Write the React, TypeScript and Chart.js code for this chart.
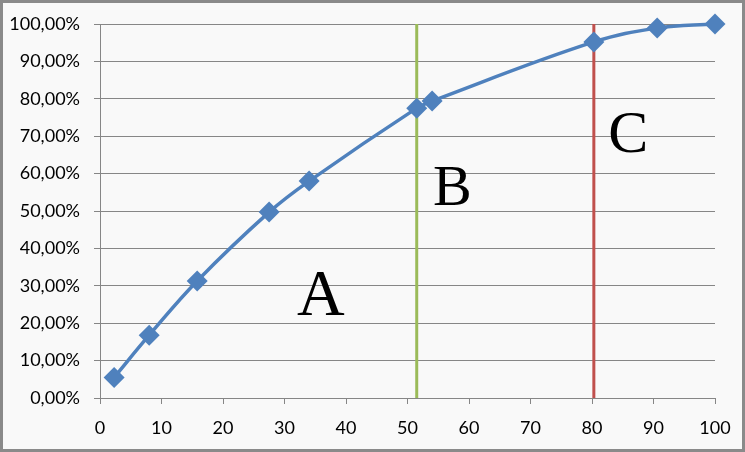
import React, { useEffect, useRef } from "react";
import { Chart, registerables } from "chart.js";

Chart.register(...registerables);

// Cumulative share curve (x = % of items, y = cumulative share)
const curveX = [2.3, 8.0, 15.8, 27.5, 34.0, 51.5, 54.0, 80.3, 90.6, 100];
const curveY = [0.055, 0.168, 0.313, 0.497, 0.58, 0.775, 0.794, 0.952, 0.989, 1.0];

// Zone boundaries
const boundaryAB = 51.5;
const boundaryBC = 80.3;

// Zone labels
const zoneLabels = ["A", "B", "C"];
const zoneLabelX = [35.9, 57.3, 85.9];
const zoneLabelY = [0.222, 0.516, 0.658];

const yTickLabels = ["0,00%", "10,00%", "20,00%", "30,00%", "40,00%", "50,00%", "60,00%", "70,00%", "80,00%", "90,00%", "100,00%"];
const xTickLabels = ["0", "10", "20", "30", "40", "50", "60", "70", "80", "90", "100"];

const zoneLabelPlugin = {
  id: "zoneLabels",
  afterDatasetsDraw(chart: any) {
    const { ctx, scales } = chart;
    const sizes = [66, 58, 60];
    ctx.save();
    ctx.fillStyle = "#000000";
    ctx.textAlign = "center";
    ctx.textBaseline = "alphabetic";
    zoneLabels.forEach((t, i) => {
      ctx.font = `${sizes[i]}px "Liberation Serif", "Times New Roman", serif`;
      ctx.fillText(t, scales.x.getPixelForValue(zoneLabelX[i]), scales.y.getPixelForValue(zoneLabelY[i]));
    });
    ctx.restore();
  },
};

const zeroPad = (s: any) => {
  s.paddingTop = 0;
  s.paddingBottom = 0;
  s.paddingLeft = 0;
  s.paddingRight = 0;
};

export default function App() {
  const ref = useRef<HTMLCanvasElement | null>(null);
  useEffect(() => {
    document.body.style.margin = "0";
    if (!ref.current) return;
    const grid = "#868686";
    const chart = new Chart(ref.current, {
      type: "line",
      data: {
        datasets: [
          {
            data: curveX.map((x, i) => ({ x, y: curveY[i] })),
            borderColor: "#4F81BD",
            backgroundColor: "#4F81BD",
            borderWidth: 3.5,
            tension: 0.4,
            pointStyle: "rectRot",
            pointRadius: 10.5,
            pointBorderWidth: 0,
            fill: false,
            clip: false,
          },
          {
            data: [
              { x: boundaryAB, y: 0 },
              { x: boundaryAB, y: 1 },
            ],
            borderColor: "#9BBB59",
            borderWidth: 3,
            pointRadius: 0,
            tension: 0,
            fill: false,
          },
          {
            data: [
              { x: boundaryBC, y: 0 },
              { x: boundaryBC, y: 1 },
            ],
            borderColor: "#C0504D",
            borderWidth: 3,
            pointRadius: 0,
            tension: 0,
            fill: false,
          },
        ],
      },
      options: {
        animation: false,
        responsive: false,
        maintainAspectRatio: false,
        layout: { autoPadding: false, padding: { left: 0, right: 27, top: 21, bottom: 0 } },
        plugins: { legend: { display: false }, tooltip: { enabled: false } },
        scales: {
          x: {
            type: "linear",
            min: 0,
            max: 100,
            afterFit: (s: any) => {
              s.height = 51;
              zeroPad(s);
            },
            ticks: {
              stepSize: 10,
              padding: 13,
              color: "#000000",
              font: { family: "Lato", size: 18 },
              callback: (v: any, i: number) => xTickLabels[i],
            },
            grid: { drawOnChartArea: false, drawTicks: true, tickLength: 6, color: grid },
            border: { display: true, color: grid },
          },
          y: {
            min: 0,
            max: 1,
            afterFit: (s: any) => {
              s.width = 97;
              zeroPad(s);
            },
            ticks: {
              stepSize: 0.1,
              padding: 14,
              color: "#000000",
              font: { family: "Lato", size: 18 },
              callback: (v: any, i: number) => yTickLabels[i],
            },
            grid: { drawTicks: true, tickLength: 6, color: grid },
            border: { display: true, color: grid },
          },
        },
      },
      plugins: [zoneLabelPlugin],
    });
    return () => chart.destroy();
  }, []);
  return (
    <div
      style={{
        width: 745,
        height: 452,
        boxSizing: "border-box",
        border: "3px solid #8a8a8a",
        background: "#f9f9f9",
      }}
    >
      <canvas ref={ref} width={739} height={446} style={{ display: "block", width: 739, height: 446 }} />
    </div>
  );
}
